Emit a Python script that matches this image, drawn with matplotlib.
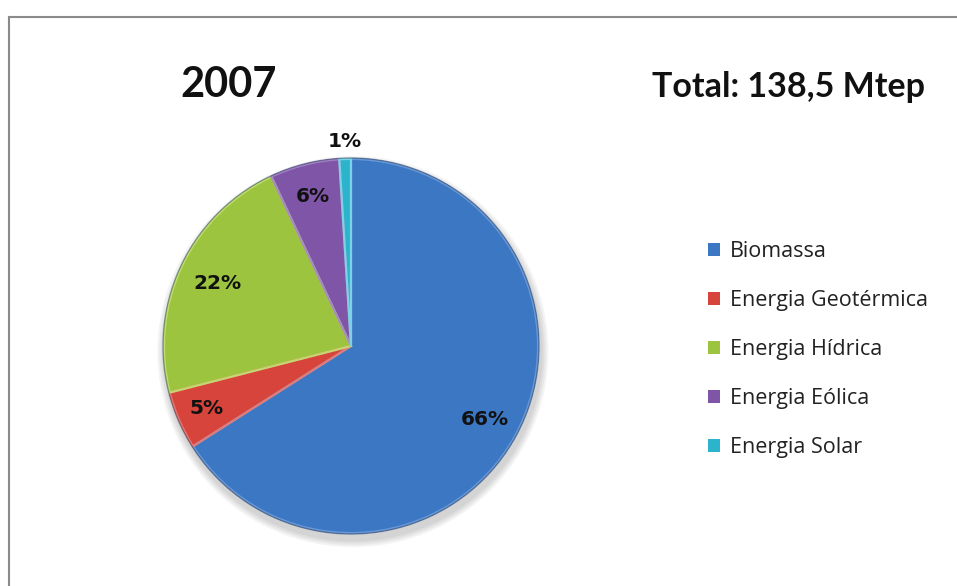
import matplotlib
matplotlib.use("Agg")
import matplotlib.pyplot as plt
from matplotlib.lines import Line2D
from matplotlib.patches import Circle, Wedge
import numpy as np

# Data
categories = ["Biomassa", "Energia Geotérmica", "Energia Hídrica", "Energia Eólica", "Energia Solar"]
shares = [66, 5, 22, 6, 1]
title_text = "2007"
total_text = "Total: 138,5 Mtep"

# Styling
colors = ["#3b77c3", "#d6443c", "#9cc43f", "#7f56a7", "#2db4cd"]
edge_tints = ["#6f9bd8", "#ec7a72", "#c2e070", "#a585c6", "#7fd8e8"]
label_dist = [0.81, 0.84, 0.785, 0.82, 1.09]

W, H, DPI = 957, 586, 100
fig = plt.figure(figsize=(W / DPI, H / DPI), dpi=DPI)
fig.patch.set_facecolor("white")

# Pie axes: center at (351, 346) px, radius 188 px
cx, cy, r = 351, 346, 188
ax = fig.add_axes([(cx - r) / W, (H - cy - r) / H, 2 * r / W, 2 * r / H])
ax.axis("off")

# soft drop shadow
for k in range(4):
    ax.add_patch(Circle((0.01, -0.03), 1.0 + 0.01 * (k + 1), color="#000000",
                        alpha=0.045, lw=0, zorder=0, clip_on=False))

wedges, _ = ax.pie(shares, colors=colors, startangle=90, counterclock=False,
                   radius=1.0, wedgeprops=dict(linewidth=0), frame=False)
for w in wedges:
    w.set_zorder(2)
    w.set_clip_on(False)

# bevel highlight along wedge edges
for w, tint in zip(wedges, edge_tints):
    ax.add_patch(Wedge(w.center, w.r * 0.995, w.theta1, w.theta2,
                       facecolor="none", edgecolor=tint, lw=1.6,
                       alpha=0.9, zorder=3, clip_on=False))
# darker outer rim
ax.add_patch(Circle((0, 0), 1.0, facecolor="none", edgecolor="#1d3557",
                    lw=1.0, alpha=0.45, zorder=4, clip_on=False))

ax.set_xlim(-1, 1)
ax.set_ylim(-1, 1)
ax.set_aspect("equal")

# percentage labels
for w, v, d in zip(wedges, shares, label_dist):
    ang = np.deg2rad((w.theta1 + w.theta2) / 2)
    ax.text(d * np.cos(ang), d * np.sin(ang), f"{v}%", ha="center", va="center",
            fontsize=14.5, fontweight="bold", family="DejaVu Sans",
            color="#111111", zorder=5, clip_on=False)

# titles
fig.text(180 / W, 1 - 97 / H, title_text, fontsize=30, fontweight="bold",
         family="Lato", ha="left", va="baseline", color="#111111")
fig.text(652 / W, 1 - 97 / H, total_text, fontsize=24.5, fontweight="bold",
         family="Lato", ha="left", va="baseline", color="#111111")

# legend
leg = fig.legend(wedges, categories, loc="center left",
                 bbox_to_anchor=(708 / W, 1 - 349.5 / H), frameon=False,
                 prop=dict(family="Open Sans", size=15.5), handlelength=0.55,
                 handleheight=0.55, handletextpad=0.45, labelspacing=1.3,
                 borderpad=0, borderaxespad=0)
for t in leg.get_texts():
    t.set_color("#222222")

# chart-area frame (left and top edges)
frame_col = "#8a8a8a"
fig.add_artist(Line2D([8.5 / W, 8.5 / W], [0, 1 - 17 / H], transform=fig.transFigure,
                      color=frame_col, lw=1.5))
fig.add_artist(Line2D([8.5 / W, 1], [1 - 17 / H, 1 - 17 / H], transform=fig.transFigure,
                      color=frame_col, lw=1.5))

fig.savefig("out.png", dpi=DPI, facecolor="white")
